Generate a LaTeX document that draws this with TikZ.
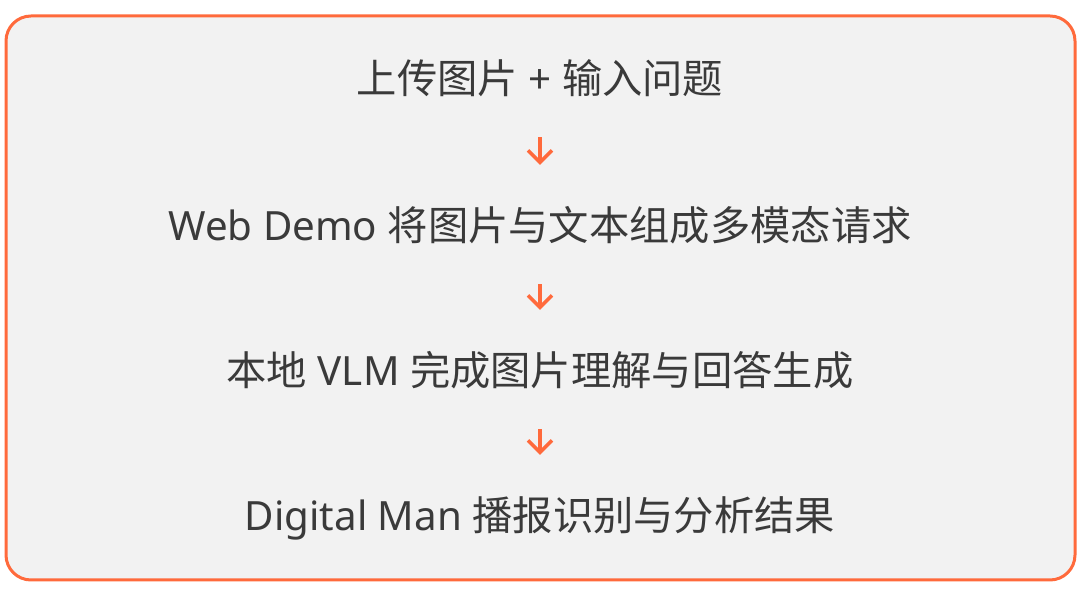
\documentclass[tikz,border=0pt]{standalone}
\usepackage{fontspec}
\setmainfont{Noto Sans}
\newfontfamily\cjk{Noto Sans CJK SC}
\usetikzlibrary{arrows.meta}
\definecolor{flowOrange}{HTML}{FF6A3C}
\definecolor{flowGray}{HTML}{F2F2F2}
\definecolor{flowText}{HTML}{3A3A3A}
\tikzset{
	step text/.style={text=flowText, inner sep=0pt, text height=30pt, text depth=8pt,
		font=\fontsize{40.3}{47}\selectfont},
	step arrow/.style={draw=flowOrange, line width=3.5pt,
		-{Straight Barb[length=12pt,width=24pt,line width=3.5pt]},
		shorten <=35pt, shorten >=46pt}
}
\begin{document}
\begin{tikzpicture}[x=1pt, y=1pt]
	\useasboundingbox (0,0) rectangle (1080,591);
	% outer frame
	\draw[draw=flowOrange, fill=flowGray, line width=3pt, rounded corners=25pt]
		(6,11) rectangle (1075,575);
	% steps
	\node[step text] (upload) at (540,508) {{\cjk 上传图片} + {\cjk 输入问题}};
	\node[step text] (request) at (540,361) {Web Demo {\cjk 将图片与文本组成多模态请求}};
	\node[step text] (vlm) at (540,216) {{\cjk 本地} VLM {\cjk 完成图片理解与回答生成}};
	\node[step text] (digital) at (540,71) {Digital Man {\cjk 播报识别与分析结果}};
	% arrows
	\draw[step arrow] (upload) -- (request);
	\draw[step arrow] (request) -- (vlm);
	\draw[step arrow] (vlm) -- (digital);
\end{tikzpicture}
\end{document}
